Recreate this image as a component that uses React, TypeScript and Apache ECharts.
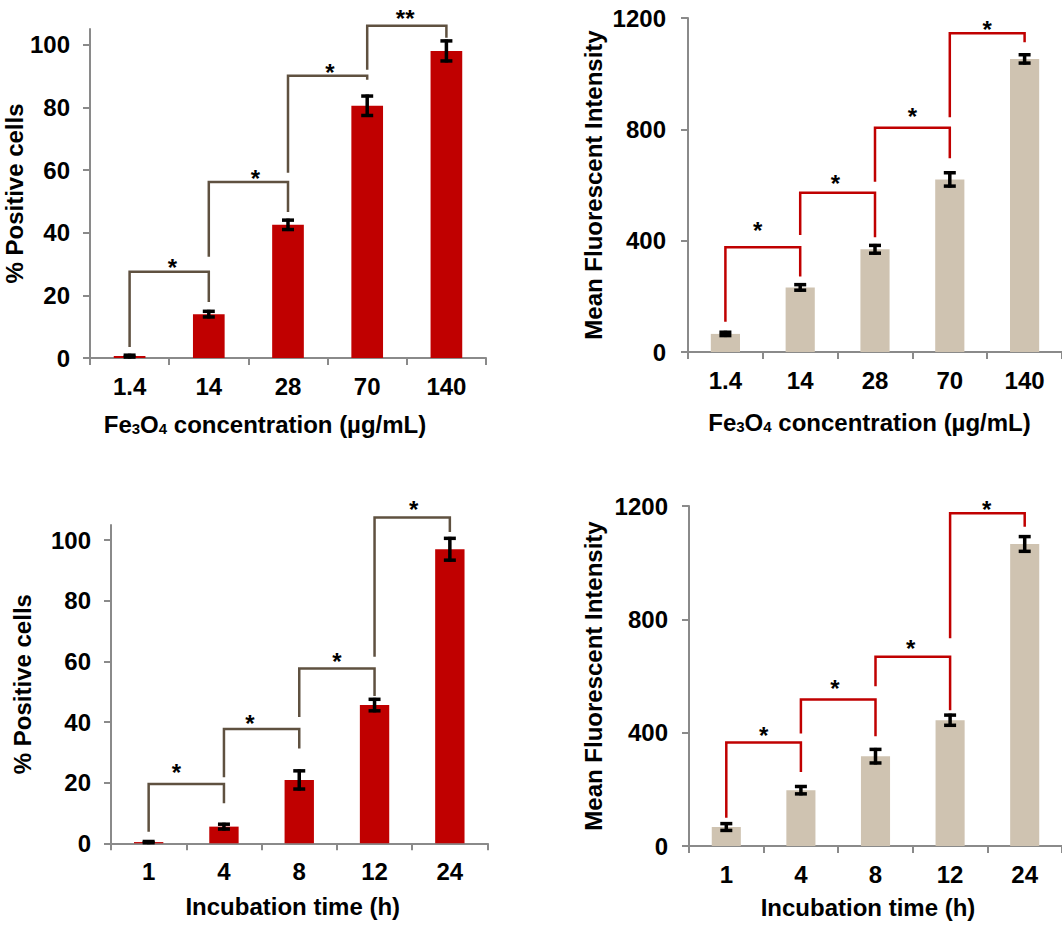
import React, { useEffect, useRef } from "react";
import * as echarts from "echarts";

// ---------- data ----------
const concCategories = ["1.4", "14", "28", "70", "140"];
const timeCategories = ["1", "4", "8", "12", "24"];

const concPositive = [0.6, 14.0, 42.5, 80.5, 98.0];
const concPositiveErr = [0.3, 0.9, 1.5, 3.1, 3.2];
const concMFI = [65, 232, 369, 620, 1053];
const concMFIErr = [6, 10, 14, 24, 15];

const timePositive = [0.4, 5.5, 20.9, 45.6, 97.0];
const timePositiveErr = [0.2, 0.8, 3.0, 1.9, 3.6];
const timeMFI = [67, 197, 317, 444, 1066];
const timeMFIErr = [12, 13, 24, 18, 26];

const positiveTicks = [0, 20, 40, 60, 80, 100];
const mfiTicks = [0, 400, 800, 1200];

// significance brackets: [fromIndex, toIndex, bracketY, leftLegEndY, rightLegEndY, starY, starFraction]
const concPositiveBrackets = [
  [0, 1, 27.5, 3.5, 17.9, 30.6, 0.54],
  [1, 2, 56.2, 32.3, 46.6, 59.0, 0.59],
  [2, 3, 90.1, 59.1, 88.8, 92.6, 0.53],
  [3, 4, 106.0, 92.0, 102.2, 110.1, 0.48],
];
const concPositiveMarks = ["*", "*", "*", "**"];

const concMFIBrackets = [
  [0, 1, 376, 109, 271, 456, 0.43],
  [1, 2, 572, 420, 412, 625, 0.47],
  [2, 3, 806, 612, 696, 863, 0.5],
  [3, 4, 1145, 843, 1113, 1175, 0.5],
];
const concMFIMarks = ["*", "*", "*", "*"];

const timePositiveBrackets = [
  [0, 1, 19.6, 3.8, 13.2, 25.1, 0.37],
  [1, 2, 37.7, 21.8, 31.3, 41.2, 0.345],
  [2, 3, 57.7, 41.7, 48.6, 61.6, 0.5],
  [3, 4, 107.5, 61.5, 102.7, 111.9, 0.52],
];
const timePositiveMarks = ["*", "*", "*", "*"];

const timeMFIBrackets = [
  [0, 1, 365, 100, 261, 409, 0.5],
  [1, 2, 517, 397, 387, 574, 0.455],
  [2, 3, 668, 564, 479, 715, 0.47],
  [3, 4, 1174, 733, 1127, 1207, 0.49],
];
const timeMFIMarks = ["*", "*", "*", "*"];

const concTitle = "Fe{sub|3}O{sub|4} concentration (µg/mL)";
const timeTitle = "Incubation time (h)";
const positiveTitle = "% Positive cells";
const mfiTitle = "Mean Fluorescent Intensity";

// ---------- styles ----------
const FONT = 'Arial, "Liberation Sans", Helvetica, sans-serif';
const RED = "#C00000";
const TAN = "#CFC3B1";
const BROWN = "#5F5140";
const AXIS = "#8A8A8A";

type Panel = {
  grid: { left: number; top: number; width: number; height: number };
  cats: string[];
  values: number[];
  errs: number[];
  max: number;
  ticks: number[];
  barColor: string;
  bracketColor: string;
  brackets: number[][];
  marks: string[];
  xTitle: string;
  xGap: number;
  xShift: number;
  yTitle: string;
  yGap: number;
  yLabelMargin: number;
  barWidth: string;
};

const panels: Panel[] = [
  {
    grid: { left: 90, top: 29, width: 396, height: 329 },
    cats: concCategories,
    values: concPositive,
    errs: concPositiveErr,
    max: 105,
    ticks: positiveTicks,
    barColor: RED,
    bracketColor: BROWN,
    brackets: concPositiveBrackets,
    marks: concPositiveMarks,
    xTitle: concTitle,
    xGap: 54,
    xShift: 46,
    yTitle: positiveTitle,
    yGap: 56,
    yLabelMargin: 20,
    barWidth: "40%",
  },
  {
    grid: { left: 688, top: 18, width: 380, height: 334 },
    cats: concCategories,
    values: concMFI,
    errs: concMFIErr,
    max: 1200,
    ticks: mfiTicks,
    barColor: TAN,
    bracketColor: RED,
    brackets: concMFIBrackets,
    marks: concMFIMarks,
    xTitle: concTitle,
    xGap: 58,
    xShift: 11,
    yTitle: mfiTitle,
    yGap: 83,
    yLabelMargin: 22,
    barWidth: "39%",
  },
  {
    grid: { left: 111, top: 525, width: 376.5, height: 318.3 },
    cats: timeCategories,
    values: timePositive,
    errs: timePositiveErr,
    max: 105,
    ticks: positiveTicks,
    barColor: RED,
    bracketColor: BROWN,
    brackets: timePositiveBrackets,
    marks: timePositiveMarks,
    xTitle: timeTitle,
    xGap: 51,
    xShift: 13,
    yTitle: positiveTitle,
    yGap: 77,
    yLabelMargin: 20,
    barWidth: "39%",
  },
  {
    grid: { left: 689, top: 506, width: 377, height: 340 },
    cats: timeCategories,
    values: timeMFI,
    errs: timeMFIErr,
    max: 1200,
    ticks: mfiTicks,
    barColor: TAN,
    bracketColor: RED,
    brackets: timeMFIBrackets,
    marks: timeMFIMarks,
    xTitle: timeTitle,
    xGap: 49,
    xShift: 15,
    yTitle: mfiTitle,
    yGap: 84,
    yLabelMargin: 21,
    barWidth: "39%",
  },
];

function buildOption() {
  const grid: any[] = [];
  const xAxis: any[] = [];
  const yAxis: any[] = [];
  const series: any[] = [];

  const labelStyle = { fontFamily: FONT, fontSize: 24, fontWeight: "bold", color: "#000" };

  panels.forEach((p, k) => {
    grid.push({ ...p.grid, containLabel: false });
    xAxis.push({
      type: "category",
      gridIndex: k,
      data: p.cats,
      axisLine: { show: true, lineStyle: { color: AXIS, width: 2 } },
      axisTick: { show: true, length: 7, lineStyle: { color: AXIS, width: 2 } },
      axisLabel: { ...labelStyle, margin: 16 },
      splitLine: { show: false },
      name: p.xTitle,
      nameLocation: "middle",
      nameGap: p.xGap,
      nameTextStyle: {
        ...labelStyle,
        verticalAlign: "top",
        padding: [0, p.xShift, 0, 0],
        rich: {
          sub: {
            fontFamily: FONT,
            fontSize: 15,
            fontWeight: "bold",
            color: "#000",
            lineHeight: 8,
            verticalAlign: "bottom",
          },
        },
      },
    });
    yAxis.push({
      type: "value",
      gridIndex: k,
      min: 0,
      max: p.max,
      axisLine: { show: true, lineStyle: { color: AXIS, width: 2 } },
      axisTick: { show: true, length: 7, lineStyle: { color: AXIS, width: 2 }, customValues: p.ticks },
      axisLabel: {
        ...labelStyle,
        margin: p.yLabelMargin,
        customValues: p.ticks,
        formatter: (v: number) => String(v),
      },
      splitLine: { show: false },
      name: p.yTitle,
      nameLocation: "middle",
      nameRotate: 90,
      nameGap: p.yGap,
      nameTextStyle: { ...labelStyle },
    });

    series.push({
      type: "bar",
      xAxisIndex: k,
      yAxisIndex: k,
      data: p.values,
      barWidth: p.barWidth,
      itemStyle: { color: p.barColor },
      silent: true,
      z: 2,
    });

    series.push({
      type: "custom",
      xAxisIndex: k,
      yAxisIndex: k,
      clip: false,
      silent: true,
      z: 3,
      encode: { x: 0, y: 1 },
      data: p.values.map((v, i) => [i, v, p.errs[i]]),
      renderItem: (params: any, api: any) => {
        const i = api.value(0);
        const v = api.value(1);
        const e = api.value(2);
        const hi = api.coord([i, v + e]);
        const lo = api.coord([i, v - e]);
        const x = hi[0];
        const w = 6;
        const st = { stroke: "#000", lineWidth: 3.5 };
        return {
          type: "group",
          children: [
            { type: "line", shape: { x1: x, y1: hi[1] - 1.5, x2: x, y2: lo[1] + 1.5 }, style: st },
            { type: "line", shape: { x1: x - w, y1: hi[1], x2: x + w, y2: hi[1] }, style: st },
            { type: "line", shape: { x1: x - w, y1: lo[1], x2: x + w, y2: lo[1] }, style: st },
          ],
        };
      },
    });

    const marks = p.marks;
    const color = p.bracketColor;
    series.push({
      type: "custom",
      xAxisIndex: k,
      yAxisIndex: k,
      clip: false,
      silent: true,
      z: 4,
      encode: { x: [0, 1], y: [2, 3, 4, 5] },
      data: p.brackets,
      renderItem: (params: any, api: any) => {
        const a = api.value(0);
        const b = api.value(1);
        const top = api.value(2);
        const lEnd = api.value(3);
        const rEnd = api.value(4);
        const sy = api.value(5);
        const frac = api.value(6);
        const p1 = api.coord([a, top]);
        const p2 = api.coord([b, top]);
        const l = api.coord([a, lEnd]);
        const r = api.coord([b, rEnd]);
        const s = api.coord([a, sy]);
        const sx = p1[0] + (p2[0] - p1[0]) * frac;
        return {
          type: "group",
          children: [
            {
              type: "polyline",
              shape: {
                points: [
                  [l[0], l[1]],
                  [p1[0], p1[1]],
                  [p2[0], p2[1]],
                  [r[0], r[1]],
                ],
              },
              style: { stroke: color, lineWidth: 2.5, fill: "none", lineJoin: "miter" },
            },
            {
              type: "text",
              x: sx,
              y: s[1] + 5,
              style: {
                text: marks[params.dataIndex],
                fontFamily: FONT,
                fontSize: 24,
                fontWeight: "bold",
                fill: "#000",
                align: "center",
                verticalAlign: "middle",
              },
            },
          ],
        };
      },
    });
  });

  return {
    animation: false,
    backgroundColor: "#ffffff",
    grid,
    xAxis,
    yAxis,
    series,
  };
}

export default function App() {
  const ref = useRef<HTMLDivElement>(null);
  useEffect(() => {
    if (!ref.current) return;
    const chart = echarts.init(ref.current, undefined, { renderer: "svg" });
    chart.setOption(buildOption());
    return () => chart.dispose();
  }, []);
  return (
    <div
      ref={ref}
      style={{ position: "absolute", left: 0, top: 0, width: 1062, height: 926, background: "#fff" }}
    />
  );
}
